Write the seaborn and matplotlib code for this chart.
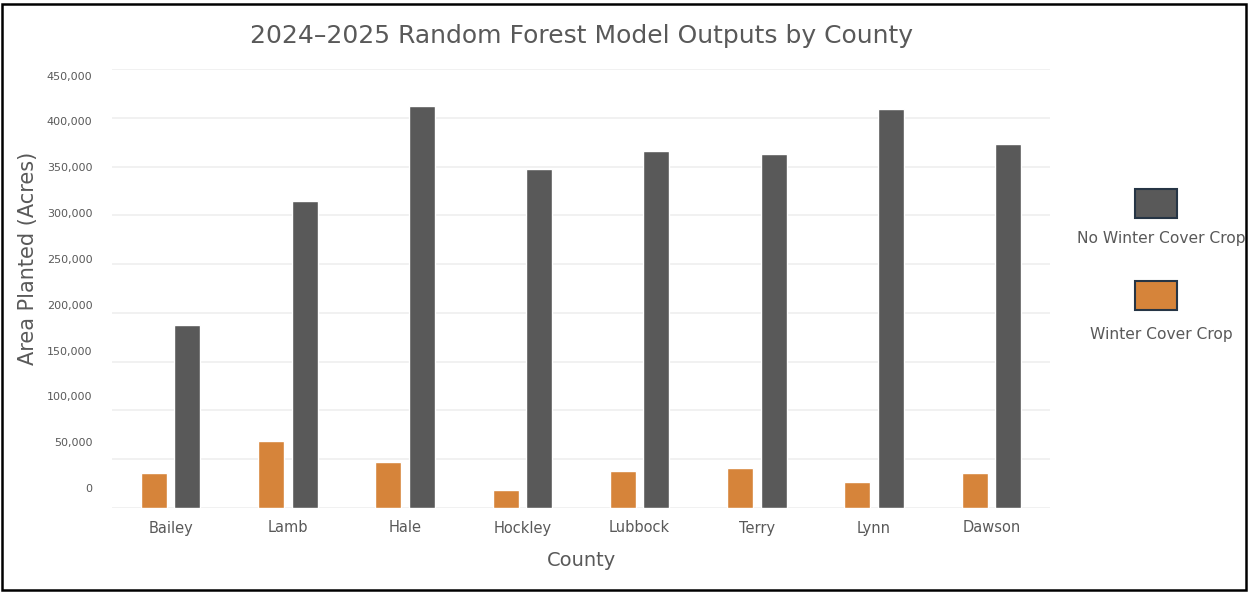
import numpy as np
import pandas as pd
import matplotlib
matplotlib.use("Agg")
import matplotlib.pyplot as plt
from matplotlib.patches import Rectangle
from matplotlib.ticker import FuncFormatter
import seaborn as sns

# County-level model outputs (acres)
counties = ["Bailey", "Lamb", "Hale", "Hockley", "Lubbock", "Terry", "Lynn", "Dawson"]
cover_crop = [35900, 68700, 47500, 18500, 38200, 40700, 27000, 35900]
no_cover_crop = [187300, 314700, 412000, 348000, 365600, 362500, 409300, 372800]
series_names = ["Winter Cover Crop", "No Winter Cover Crop"]
y_ticks = list(range(0, 450001, 50000))

ORANGE = "#D6843A"
GRAY = "#595959"
TEXT = "#595959"
EDGE = "#263545"

df = pd.DataFrame({
    "County": counties * 2,
    "Series": [series_names[0]] * len(counties) + [series_names[1]] * len(counties),
    "Acres": cover_crop + no_cover_crop,
})

sns.set_theme(style="white")
plt.rcParams["font.family"] = ["DejaVu Sans"]

fig = plt.figure(figsize=(12.49, 5.92), dpi=100)
ax = fig.add_axes([112 / 1249, 84 / 592, 938 / 1249, 439 / 592])

sns.barplot(
    data=df, x="County", y="Acres", hue="Series",
    order=counties, hue_order=series_names,
    palette={series_names[0]: ORANGE, series_names[1]: GRAY},
    width=0.572, gap=0.22, saturation=1, legend=False, ax=ax,
)

ax.set_ylim(0, 450000)
ax.set_yticks(y_ticks)
ax.yaxis.grid(True, color="#efefef", linewidth=1.2)
ax.set_axisbelow(True)
ax.tick_params(axis="y", left=False, labelleft=False)
ax.tick_params(axis="x", bottom=False, pad=3, labelsize=10.5, labelcolor=TEXT)
for side in ["top", "right", "left", "bottom"]:
    ax.spines[side].set_visible(False)

# value labels drawn on their own left-hand scale
slope = 439 / 412.4
shift = 20 * 450000 / 412.4
sec = ax.secondary_yaxis(
    "left",
    functions=(lambda d: d * slope - shift, lambda v: (v + shift) / slope),
)
sec.set_yticks(y_ticks)
sec.yaxis.set_major_formatter(FuncFormatter(lambda v, p: f"{int(round(v)):,}"))
sec.tick_params(axis="y", length=0, pad=14, labelsize=8, labelcolor=TEXT)
sec.spines["left"].set_visible(False)

ax.set_title("2024\u20132025 Random Forest Model Outputs by County",
             fontsize=18, color=TEXT, pad=19)
ax.set_xlabel("County", fontsize=14, color=TEXT, labelpad=11)
ax.set_ylabel("")
fig.text(28 / 1249, 1 - 258 / 592, "Area Planted (Acres)", rotation=90,
         ha="center", va="center", fontsize=15, color=TEXT)

# legend: swatch above each label
legend_items = [(series_names[1], GRAY, 189, 239), (series_names[0], ORANGE, 281, 334)]
for name, col, top, ty in legend_items:
    fig.patches.append(Rectangle(
        (1135 / 1249, 1 - (top + 29) / 592), 42 / 1249, 29 / 592,
        transform=fig.transFigure, facecolor=col, edgecolor=EDGE, linewidth=1.5))
    fig.text(1161 / 1249, 1 - ty / 592, name, ha="center", va="center",
             fontsize=11.2, color=TEXT)

# outer frame
fig.patches.append(Rectangle((2 / 1249, 2 / 592), 1244 / 1249, 586 / 592,
                             transform=fig.transFigure, fill=False,
                             edgecolor="black", linewidth=1.8))

fig.savefig("out.png", dpi=100, facecolor="white")
